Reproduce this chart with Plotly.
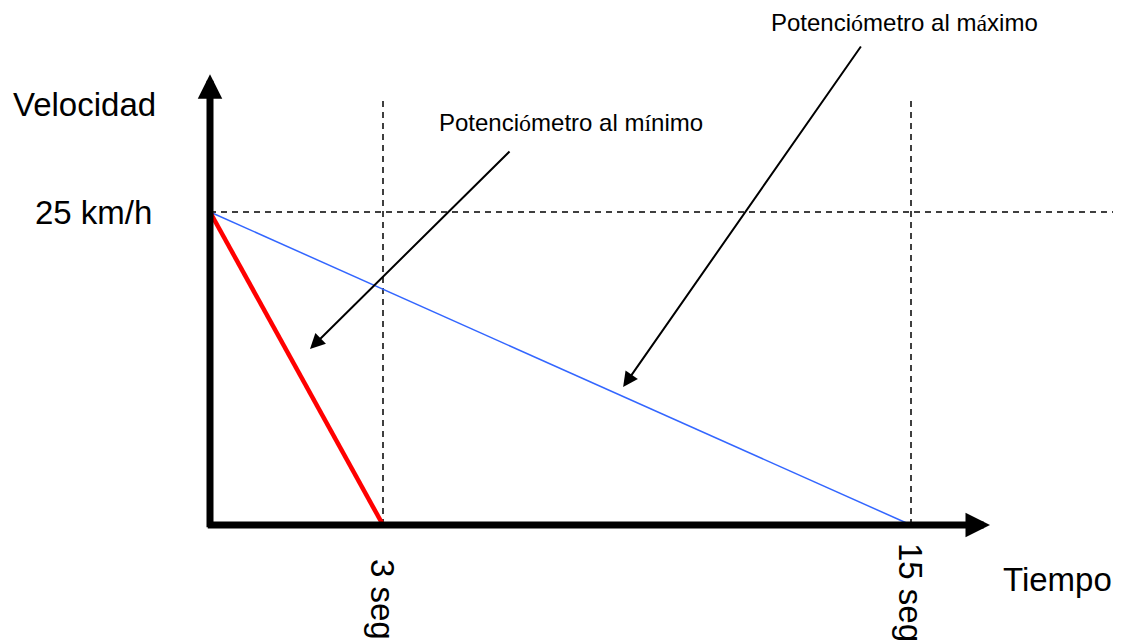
import plotly.graph_objects as go

# ---- data ----
times_s = [0, 3, 15]                 # time marks (s)
speed_start_kmh = 25                 # initial speed
min_pot_t = [0, 3]                   # potentiometer at minimum: stops in 3 s
min_pot_v = [25, 0]
max_pot_t = [0, 15]                  # potentiometer at maximum: stops in 15 s
max_pot_v = [25, 0]
tick_labels = ["3 seg", "15 seg"]
speed_label = "25 km/h"

FONT = "Liberation Sans, Arial, sans-serif"
SERIF = "Liberation Serif"
W, H = 1121, 642
OFF = 8  # page body margin


def P(x, y):
    """reference-picture pixel -> paper coords"""
    return (x - OFF) / W, 1 - (y - OFF) / H


fig = go.Figure()

# curves (schematic, not to scale: the 3 s curve uses its own time axis x2)
fig.add_trace(go.Scatter(x=min_pot_t, y=min_pot_v, mode="lines", xaxis="x2",
                         line=dict(color="#ff0000", width=4.5), showlegend=False,
                         hoverinfo="skip"))
fig.add_trace(go.Scatter(x=max_pot_t, y=max_pot_v, mode="lines",
                         line=dict(color="#3366ff", width=1.5), showlegend=False,
                         hoverinfo="skip"))

# dashed guides
dash = dict(color="black", width=1.5, dash="6px,5px")
fig.add_shape(type="line", xref="x", yref="y", x0=0, x1=19.7,
              y0=speed_start_kmh, y1=speed_start_kmh, line=dash, layer="below")
for t, xr in zip(times_s[1:], ["x2", "x"]):
    fig.add_shape(type="line", xref=xr, yref="y", x0=t, x1=t, y0=0, y1=33.95,
                  line=dash, layer="below")

# axes with arrows
fig.add_annotation(x=16.69, y=0, ax=-0.08, ay=0, xref="x", yref="y", axref="x", ayref="y",
                   text="", showarrow=True, arrowhead=2, arrowsize=0.7, arrowwidth=7,
                   arrowcolor="black", standoff=0, startstandoff=0)
fig.add_annotation(x=0, y=36.0, ax=0, ay=-0.3, xref="x", yref="y", axref="x", ayref="y",
                   text="", showarrow=True, arrowhead=2, arrowsize=0.7, arrowwidth=7,
                   arrowcolor="black", standoff=0, startstandoff=0)

# axis labels
big = dict(family=FONT, size=33, color="black")
px, py = P(84, 104)
fig.add_annotation(x=px, y=py, xref="paper", yref="paper",
                   text="Velocidad", showarrow=False, font=big,
                   xanchor="center", yanchor="middle")
px, _ = P(93, 0)
fig.add_annotation(x=px, y=speed_start_kmh, xref="paper", yref="y",
                   text=speed_label, showarrow=False, font=big,
                   xanchor="center", yanchor="middle")
px, py = P(1057, 579)
fig.add_annotation(x=px, y=py, xref="paper", yref="paper",
                   text="Tiempo", showarrow=False, font=big,
                   xanchor="center", yanchor="middle")
for t, lab, yc, xr in zip(times_s[1:], tick_labels, [599, 592], ["x2", "x"]):
    _, py = P(0, yc)
    fig.add_annotation(x=t, y=py, xref=xr, yref="paper",
                       text=lab, showarrow=False, font=big, textangle=90,
                       xanchor="center", yanchor="middle")

# callouts
small = dict(family=FONT, size=24, color="black")
px, py = P(571, 122)
fig.add_annotation(x=px, y=py, xref="paper", yref="paper",
                   text=f"Potenci<span style='font-family:{SERIF}'>ó</span>metro al m<span style='font-family:{SERIF}'>í</span>nimo",
                   showarrow=False, font=small, xanchor="center", yanchor="middle")
px, py = P(904, 22)
fig.add_annotation(x=px, y=py, xref="paper", yref="paper",
                   text=f"Potenci<span style='font-family:{SERIF}'>ó</span>metro al m<span style='font-family:{SERIF}'>á</span>ximo",
                   showarrow=False, font=small, xanchor="center", yanchor="middle")
fig.add_annotation(x=1.734, y=14.06, ax=5.22, ay=29.95, xref="x2", yref="y", axref="x2", ayref="y",
                   text="", showarrow=True, arrowhead=2, arrowsize=1.5, arrowwidth=2,
                   arrowcolor="black", standoff=0)
fig.add_annotation(x=8.84, y=11.02, ax=13.95, ay=38.34, xref="x", yref="y", axref="x", ayref="y",
                   text="", showarrow=True, arrowhead=2, arrowsize=1.5, arrowwidth=2,
                   arrowcolor="black", standoff=0)

# axis ranges: reference origin at page pixel (210, 525), 15 s at x=911, 3 s at x=383,
# 25 km/h at y=212
sx = (911 - 210) / 15
sx2 = (383 - 210) / 3
sy = (525 - 212) / 25
x0 = -(210 - OFF) / sx
x02 = -(210 - OFF) / sx2
y0 = -(H - (525 - OFF)) / sy

fig.update_layout(
    width=W, height=H,
    margin=dict(l=0, r=0, t=0, b=0),
    paper_bgcolor="white", plot_bgcolor="white",
    xaxis=dict(range=[x0, x0 + W / sx], visible=False, fixedrange=True),
    xaxis2=dict(range=[x02, x02 + W / sx2], visible=False, fixedrange=True,
                overlaying="x", anchor="y"),
    yaxis=dict(range=[y0, y0 + H / sy], visible=False, fixedrange=True),
    showlegend=False,
)

fig.write_html("out.html")
